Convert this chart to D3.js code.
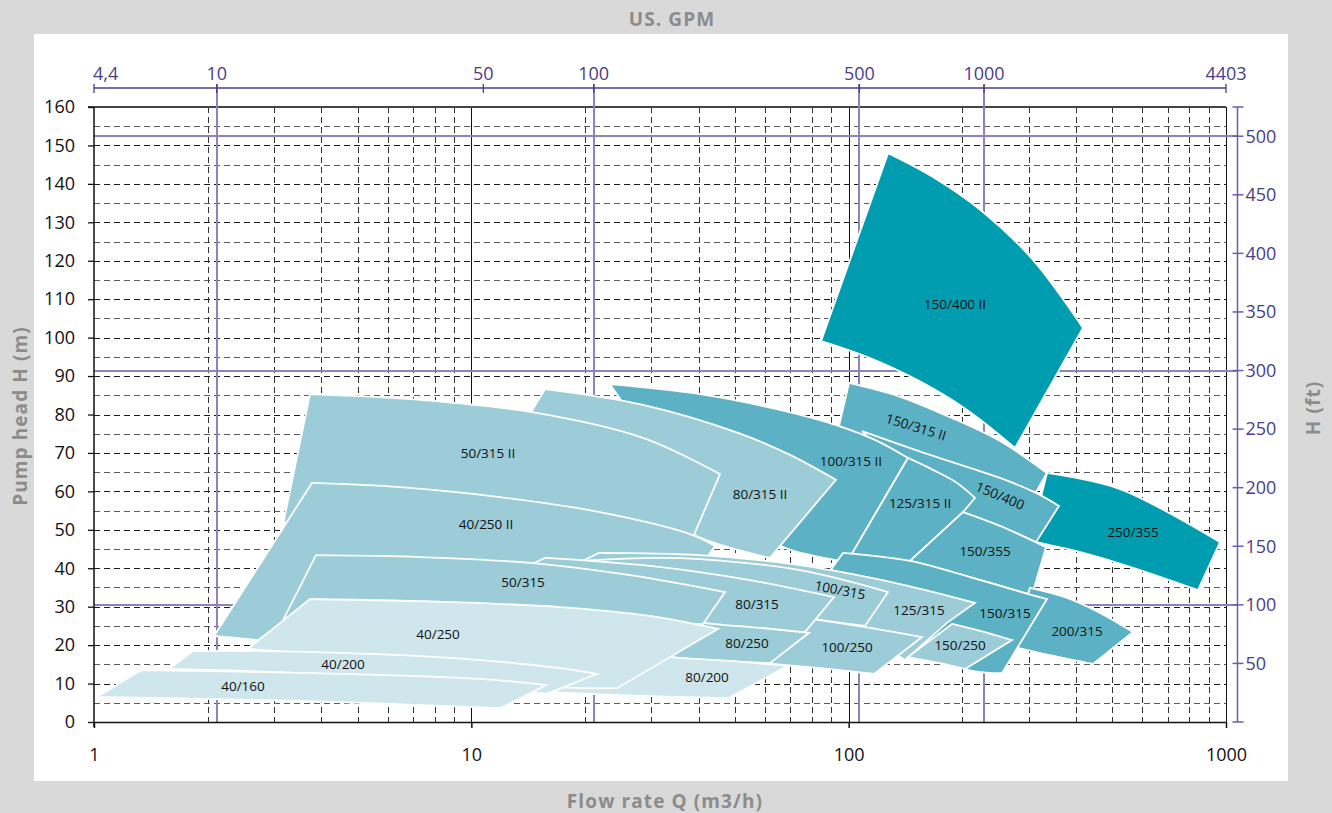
<!DOCTYPE html>
<html><head><meta charset="utf-8">
<script src="https://cdn.jsdelivr.net/npm/d3@7"></script>
<style>
html,body{margin:0;padding:0;background:#d9d9d9;}
svg{display:block;}
</style></head><body>
<svg id="chart" width="1332" height="813"></svg>
<script>
// ---------- axis data ----------
const flowTicks = [1, 10, 100, 1000];
const headTicks = [0, 10, 20, 30, 40, 50, 60, 70, 80, 90, 100, 110, 120, 130, 140, 150, 160];
const gpmTicks = [4.4, 10, 50, 100, 500, 1000, 4403];
const gpmTickLabels = ["4,4", "10", "50", "100", "500", "1000", "4403"];
// flow rate (m3/h) at which each GPM tick is printed on the original chart
const gpmAtFlow = [1, 2.114, 10.76, 21.10, 106.8, 228.4, 1000];
const gpmLines = [10, 100, 500, 1000];
const ftTicks = [50, 100, 150, 200, 250, 300, 350, 400, 450, 500];
const ftLines = [100, 300, 500];
const toneColors = ["#cfe6ec", "#9bccd7", "#5cb1c4", "#009db1"];

// ---------- pump ranges: [Q m3/h, H m] ----------
const r150_400_II = { top: [[127.2,148.0],[167.3,141.8],[227,132.7],[308,120.2],[417.9,102.5]],
  bottom: [[84.47,99.1],[111.8,95.0],[151.8,89.0],[205.9,81.2],[276.0,71.3]] };
const r250_355 = { top: [[335.4,64.8],[523.8,60.6],[964.1,46.8]],
  bottom: [[302.4,47.1],[417.9,44.0],[567.0,40.1],[843.0,34.3]] };
const r150_315_II = { top: [[100.2,88.2],[136.8,84.6],[185.6,79.3],[251.8,73.1],[335.4,64.8]],
  bottom: [[94.27,77.0],[113.9,73.4],[164.3,67.6],[251.8,61.7],[313.7,59.8]] };
const r150_400 = { top: [[108.5,75.7],[164.3,69.5],[251.8,63.5],[313.7,59.6],[360.9,56.2]],
  bottom: [[121.1,70.8],[169.4,59.8],[200.9,54.6],[251.8,51.0],[313.7,46.8]] };
const r100_315_II = { top: [[23.31,87.9],[40.37,85.3],[65.78,81.2],[94.27,77.0],[117.4,73.4],[143.6,68.7]],
  bottom: [[25.08,83.3],[40.37,65.6],[60.01,48.7],[67.81,45.3],[98.99,41.6]] };
const r125_315_II = { top: [[143.6,68.7],[167.3,65.6],[193.7,62.2],[216.2,58.3]],
  right: [[200.9,54.6]], bottom: [[100.8,42.9],[145.4,41.9]] };
const r150_355 = { top: [[200.9,54.6],[251.8,51.0],[333.4,45.5]],
  bottom: [[145.4,41.9],[209.7,37.7],[306.1,33.0]] };
const r200_315 = { top: [[302.4,34.9],[378.9,32.3],[463.6,28.4],[567.0,23.4]],
  bottom: [[267.7,19.8],[341.6,17.4],[444.2,15.1]] };
const r150_315 = { top: [[96.6,44.0],[145.4,41.9],[209.7,37.7],[306.1,33.0],[335.4,32.0]],
  bottom: [[86.55,37.5],[136.8,25.2],[203.4,13.8],[254.9,12.7]] };
const r80_315_II = { top: [[15.68,86.6],[28.51,82.5],[50.91,75.2],[69.91,69.5],[92.56,63.0]],
  bottom: [[14.39,80.6],[21.93,65.6],[38.92,48.7],[61.87,42.7]] };
const r50_315_II = { top: [[3.736,85.3],[7.312,83.8],[14.48,80.6],[28.51,73.9],[45.61,64.5]],
  right: [[38.92,48.7]], bottom: [[3.169,51.3],[4.222,58.5],[8.78,59.1],[21.93,52.6],[35.73,46.0]] };
const r40_250_II = { top: [[3.782,62.2],[6.471,61.1],[11.91,58.5],[21.93,54.6],[38.45,48.7],[44.24,45.8]],
  left: [[2.08,22.4]], bottom: [[2.72,21.3],[3.516,28.6],[4.222,31.5],[11.91,33.8],[41.62,42.1]] };
const r125_315 = { top: [[21.79,44.0],[40.37,43.4],[74.30,40.8],[136.8,35.9],[216.2,31.0]],
  right: [[182.2,25.8]], bottom: [[19.41,41.6],[40.37,32.3],[100.8,23.9],[141.0,16.1]] };
const r100_315 = { top: [[17.18,41.6],[29.75,42.7],[40.37,42.4],[74.30,39.5],[127.2,33.8]],
  bottom: [[17.18,36.9],[40.37,30.4],[74.30,27.1],[110.5,25.0]] };
const r100_250 = { top: [[69.91,27.6],[80.44,26.8],[113.9,24.5],[156.5,22.1]],
  bottom: [[60.01,15.3],[83.95,14.0],[116.7,12.5]] };
const r80_315 = { top: [[15.68,42.7],[29.75,40.6],[54.78,36.9],[91.44,32.5]],
  left: [[14.48,41.1]], bottom: [[15.21,35.6],[24.77,30.4],[41.12,25.8],[76.61,23.4]] };
const r150_250 = { top: [[187.9,25.5],[222.9,23.7],[271.0,21.3]],
  bottom: [[143.6,16.9],[174.6,15.3],[203.4,13.8]] };
const r80_250 = { top: [[27.99,28.4],[41.12,25.8],[58.21,24.5],[78.51,23.2]],
  bottom: [[27.99,18.2],[34.02,16.9],[61.87,15.3]] };
const r50_315 = { top: [[3.876,43.4],[7.312,42.9],[14.30,41.4],[26.34,38.2],[47.02,33.8]],
  bottom: [[3.149,26.0],[6.471,28.6],[16.16,27.8],[31.62,25.2],[41.12,25.5]] };
const r80_200 = { top: [[17.18,21.3],[34.02,16.9],[48.48,15.9],[69.06,14.6]],
  bottom: [[15.68,7.8],[27.99,6.8],[47.89,6.2]] };
const r40_250 = { top: [[3.736,32.0],[8.78,31.2],[17.18,29.9],[29.75,27.6],[45.06,24.2]],
  bottom: [[2.559,19.0],[6.471,15.6],[15.21,9.4],[24.32,8.8]] };
const r40_200 = { top: [[1.83,18.5],[3.805,18.2],[8.78,16.7],[17.18,14.0],[21.53,12.5]],
  bottom: [[1.58,13.8],[4.77,12.0],[15.87,7.3]] };
const r40_160 = { top: [[1.332,13.5],[3.805,12.7],[10.54,11.2],[15.78,9.6]],
  bottom: [[1.018,6.5],[3.516,5.5],[11.98,3.6]] };

// [label, tone, outline, label position [Q,H], label rotation] in drawing order
const shapes = [
  ["150/400 II", 3, r150_400_II, [191.3,108.7], 0],
  ["250/355", 3, r250_355, [567.0,49.4], 0],
  ["150/315 II", 2, r150_315_II, [150.8,76.7], 17],
  ["150/400", 2, r150_400, [251.8,58.8], 23],
  ["100/315 II", 2, r100_315_II, [101.4,67.9], 0],
  ["125/315 II", 2, r125_315_II, [154.6,57.0], 0],
  ["150/355", 2, r150_355, [229.8,44.5], 0],
  ["200/315", 2, r200_315, [402.9,23.7], 0],
  ["150/315", 2, r150_315, [259.6,28.4], 0],
  ["80/315 II", 1, r80_315_II, [58.21,59.3], 0],
  ["50/315 II", 1, r50_315_II, [11.07,70.0], 0],
  ["40/250 II", 1, r40_250_II, [10.94,51.5], 0],
  ["125/315", 1, r125_315, [153.6,29.1], 0],
  ["100/315", 1, r100_315, [94.85,34.3], 11],
  ["100/250", 1, r100_250, [98.99,19.5], 0],
  ["80/315", 1, r80_315, [57.16,30.7], 0],
  ["150/250", 1, r150_250, [197.3,20.0], 0],
  ["80/250", 1, r80_250, [53.78,20.6], 0],
  ["50/315", 1, r50_315, [13.71,36.4], 0],
  ["80/200", 0, r80_200, [42.13,11.7], 0],
  ["40/250", 0, r40_250, [8.16,22.9], 0],
  ["40/200", 0, r40_200, [4.57,15.1], 0],
  ["40/160", 0, r40_160, [2.482,9.4], 0]
];

// ---------- drawing ----------
const svg = d3.select("#chart");
const W = 1332, H = 813;
const x = d3.scaleLog().domain([1, 1000]).range([94, 1226]);
const y = d3.scaleLinear().domain([0, 160]).range([722, 107]);
const gpm = d3.scaleLog().domain(gpmTicks).range(gpmAtFlow.map(v => x(v)));
const M2FT = 3.28084;
const ft = d3.scaleLinear().domain([0, 160 * M2FT]).range([y(0), y(160)]);
const purple = "#4a3d8c", purpleLine = "#8c84bd";
const FONT = "'Open Sans', 'Noto Sans', sans-serif";

svg.append("rect").attr("width", W).attr("height", H).attr("fill", "#d9d9d9");
svg.append("rect").attr("x", 34).attr("y", 34).attr("width", 1254).attr("height", 747).attr("fill", "#fff");

const grid = svg.append("g").attr("shape-rendering", "crispEdges");
// horizontal dashed grid every 5 m
const hGrid = d3.range(5, 160, 5);
grid.selectAll(".hg").data(hGrid).join("line")
  .attr("x1", x(1)).attr("x2", x(1000))
  .attr("y1", d => Math.round(y(d)) + 0.5).attr("y2", d => Math.round(y(d)) + 0.5)
  .attr("stroke", d => d % 10 === 0 ? "#1a1a1a" : "#5a5a5a")
  .attr("stroke-width", 1.2).attr("stroke-dasharray", "6,4");
// vertical dashed minor grid
const vMinor = [];
[1, 10, 100].forEach(dec => { for (let k = 2; k <= 9; k++) vMinor.push(dec * k); });
grid.selectAll(".vg").data(vMinor).join("line")
  .attr("x1", d => Math.round(x(d)) + 0.5).attr("x2", d => Math.round(x(d)) + 0.5)
  .attr("y1", y(160)).attr("y2", y(0))
  .attr("stroke", "#333").attr("stroke-width", 1.2).attr("stroke-dasharray", "6,4");
// solid decade lines
grid.selectAll(".vd").data([10, 100, 1000]).join("line")
  .attr("x1", d => Math.round(x(d)) + 0.5).attr("x2", d => Math.round(x(d)) + 0.5)
  .attr("y1", y(160)).attr("y2", y(0))
  .attr("stroke", "#111").attr("stroke-width", 1.4);
// top border
grid.append("line").attr("x1", 88).attr("x2", x(1000)).attr("y1", y(160)).attr("y2", y(160))
  .attr("stroke", "#444").attr("stroke-width", 2);

// purple reference lines (GPM verticals, ft horizontals)
const gpmAxisY = 88;
grid.selectAll(".gl").data(gpmLines).join("line")
  .attr("x1", d => gpm(d)).attr("x2", d => gpm(d))
  .attr("y1", gpmAxisY - 4).attr("y2", y(0))
  .attr("stroke", purpleLine).attr("stroke-width", 2);
const ftAxisX = 1237.5;
grid.selectAll(".fl").data(ftLines).join("line")
  .attr("x1", x(1)).attr("x2", ftAxisX)
  .attr("y1", d => ft(d)).attr("y2", d => ft(d))
  .attr("stroke", purpleLine).attr("stroke-width", 2);

// pump ranges
const curve = d3.line().x(d => x(d[0])).y(d => y(d[1])).curve(d3.curveCatmullRom.alpha(0.5));
function outline(s) {
  let d = curve(s.top);
  (s.right || []).forEach(p => { d += "L" + x(p[0]) + "," + y(p[1]); });
  const b = curve(s.bottom.slice().reverse());
  d += "L" + b.slice(1);
  (s.left || []).forEach(p => { d += "L" + x(p[0]) + "," + y(p[1]); });
  return d + "Z";
}
const areas = svg.append("g");
areas.selectAll("path").data(shapes).join("path")
  .attr("d", d => outline(d[2]))
  .attr("fill", d => toneColors[d[1]])
  .attr("stroke", "#fff").attr("stroke-width", 1.8).attr("stroke-linejoin", "miter");

const labels = svg.append("g").attr("font-family", FONT).attr("font-size", 13.5).attr("fill", "#111");
labels.selectAll("text").data(shapes).join("text")
  .attr("transform", d => `translate(${x(d[3][0])},${y(d[3][1])}) rotate(${d[4]})`)
  .attr("text-anchor", "middle").attr("dy", "0.35em")
  .text(d => d[0]);

// left axis
const leftAxis = svg.append("g").attr("transform", `translate(${x(1)},0)`)
  .call(d3.axisLeft(y).tickValues(headTicks).tickSizeInner(6).tickSizeOuter(0).tickPadding(13));
leftAxis.select(".domain").attr("stroke", "#111").attr("stroke-width", 1.5).attr("d", `M0,${y(160)}V${y(0) + 5}`);
leftAxis.selectAll(".tick line").attr("stroke", "#111").attr("stroke-width", 1.3);
leftAxis.selectAll(".tick text").attr("font-family", FONT).attr("font-size", 18).attr("fill", "#111");

// bottom axis
const bottomAxis = svg.append("g").attr("transform", `translate(0,${y(0)})`)
  .call(d3.axisBottom(x).tickValues(flowTicks).tickFormat(d3.format("d")).tickSizeInner(6).tickSizeOuter(0).tickPadding(20));
bottomAxis.select(".domain").attr("stroke", "#111").attr("stroke-width", 1.5);
bottomAxis.selectAll(".tick line").attr("stroke", "#111").attr("stroke-width", 1.5);
bottomAxis.selectAll(".tick text").attr("font-family", FONT).attr("font-size", 18).attr("fill", "#111");

// top GPM axis
const topAxis = svg.append("g");
topAxis.append("line").attr("x1", gpm(4.4)).attr("x2", gpm(4403)).attr("y1", gpmAxisY).attr("y2", gpmAxisY)
  .attr("stroke", purple).attr("stroke-width", 1.5);
topAxis.selectAll(".t").data(gpmTicks).join("line")
  .attr("x1", d => gpm(d)).attr("x2", d => gpm(d)).attr("y1", gpmAxisY - 4).attr("y2", gpmAxisY + 5)
  .attr("stroke", purple).attr("stroke-width", 1.3);
topAxis.selectAll("text").data(gpmTicks).join("text")
  .attr("x", (d, i) => i === 0 ? gpm(d) - 1 : gpm(d)).attr("y", gpmAxisY - 8)
  .attr("text-anchor", (d, i) => i === 0 ? "start" : "middle")
  .attr("font-family", FONT).attr("font-size", 18).attr("fill", purple)
  .text((d, i) => gpmTickLabels[i]);

// right ft axis
const rightAxis = svg.append("g");
rightAxis.append("line").attr("x1", ftAxisX).attr("x2", ftAxisX).attr("y1", ft(160 * M2FT)).attr("y2", ft(0))
  .attr("stroke", "#6a5fa8").attr("stroke-width", 1.5);
rightAxis.selectAll(".cap").data([0, 160 * M2FT]).join("line")
  .attr("x1", ftAxisX - 5).attr("x2", ftAxisX + 6).attr("y1", d => ft(d)).attr("y2", d => ft(d))
  .attr("stroke", "#6a5fa8").attr("stroke-width", 1.5);
rightAxis.selectAll(".t").data(ftTicks).join("line")
  .attr("x1", ftAxisX - 5).attr("x2", ftAxisX + 6).attr("y1", d => ft(d)).attr("y2", d => ft(d))
  .attr("stroke", "#6a5fa8").attr("stroke-width", 1.5);
rightAxis.selectAll("text").data(ftTicks).join("text")
  .attr("x", ftAxisX + 8).attr("y", d => ft(d)).attr("dy", "0.35em")
  .attr("font-family", FONT).attr("font-size", 18).attr("fill", purple)
  .text(d => d);

// titles
const tStyle = s => s.attr("font-family", FONT).attr("font-weight", "bold").attr("font-size", 19)
  .attr("fill", "#8c8c8c").attr("letter-spacing", 1.1).attr("text-anchor", "middle");
svg.append("text").attr("x", 672).attr("y", 26).text("US. GPM").call(tStyle);
svg.append("text").attr("x", 665).attr("y", 808).text("Flow rate Q (m3/h)").call(tStyle);
svg.append("text").attr("transform", "translate(27,416) rotate(-90)").text("Pump head H (m)").call(tStyle);
svg.append("text").attr("transform", "translate(1320,408) rotate(-90)").text("H (ft)").call(tStyle);
</script>
</body></html>
